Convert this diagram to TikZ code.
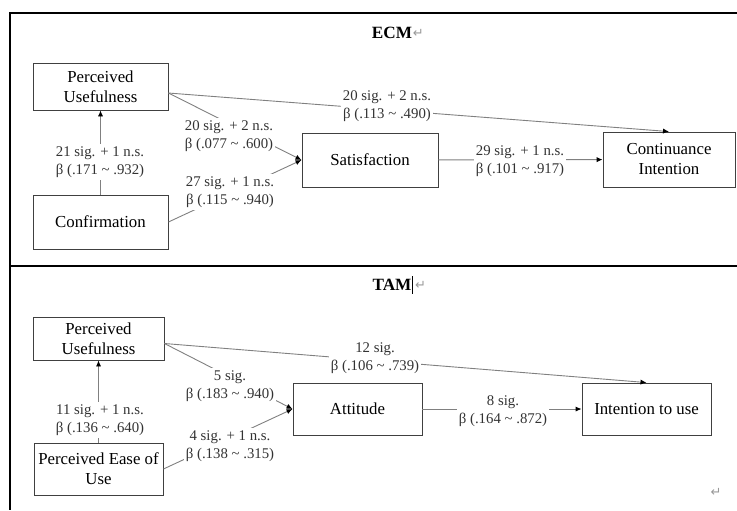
\documentclass[tikz,border=0pt]{standalone}
\usepackage{fontspec}
\setmainfont{Liberation Serif}
\newfontfamily\symfont{DejaVu Sans}
\usetikzlibrary{calc, arrows.meta}

\tikzset{
    box/.style={draw=black!75, line width=0.45pt, align=center, inner sep=1pt,
        font=\fontsize{8.4}{10}\selectfont},
    lbl/.style={fill=white, align=center, inner sep=1pt, text=black!80,
        font=\fontsize{7.4}{9.2}\selectfont},
    link/.style={draw=black!50, line width=0.45pt,
        arrows={-{Latex[black, length=3pt, width=2.6pt]}}},
    frame/.style={draw, line width=1pt},
    ret/.style={text=black!40, inner sep=0pt, font=\symfont\fontsize{6.5}{6.5}\selectfont},
    ttl/.style={inner sep=0pt, font=\bfseries\fontsize{8.6}{10}\selectfont},
}

\begin{document}
\begin{tikzpicture}[x=0.5pt, y=-0.5pt]
        \useasboundingbox (0, 0) rectangle (737, 510);
        % frame
        \coordinate (tl) at (10, 13);
        \coordinate (tr) at (737, 13);
        \coordinate (bl) at (10, 510);
        \coordinate (ml) at (10, 266);
        \coordinate (mr) at (737, 266);
        \path [frame] (tr) -- (tl) -- (bl);
        \path [frame] (ml) -- (mr);

        % ECM
        \node [ttl] (ecm) at (392, 33) {ECM};
        \node [ret, right=0pt] at (ecm.east) {↵};
        \node [box, minimum width=67.5pt, minimum height=23.5pt] (pu1) at (100.5, 86.5) {Perceived\\Usefulness};
        \node [box, minimum width=67.5pt, minimum height=27pt] (cf1) at (100.5, 222) {Confirmation};
        \node [box, minimum width=68pt, minimum height=27pt] (sat) at (370, 160) {Satisfaction};
        \node [box, minimum width=66pt, minimum height=27.5pt] (ci) at (669, 159.5) {Continuance\\Intention};
        \coordinate (pu1out) at ($(pu1.east)+(0, 6.5)$);
        \path [link] (cf1) -- (pu1);
        \path [link] (pu1out) -- (sat.west);
        \path [link] (cf1.east) -- (sat.west);
        \path [link] (pu1out) -- (ci.north);
        \path [link] (sat) -- (ci);
        \node [lbl] (e1) at (100, 162) {21 sig. + 1 n.s.\\β (.171 \textasciitilde\ .932)};
        \node [lbl] (e2) at (229, 136) {20 sig. + 2 n.s.\\β (.077 \textasciitilde\ .600)};
        \node [lbl] (e3) at (230, 192) {27 sig. + 1 n.s.\\β (.115 \textasciitilde\ .940)};
        \node [lbl] (e4) at (387, 106) {20 sig. + 2 n.s.\\β (.113 \textasciitilde\ .490)};
        \node [lbl] (e5) at (520, 161) {29 sig. + 1 n.s.\\β (.101 \textasciitilde\ .917)};

        % TAM
        \node [ttl] (tam) at (392, 285) {TAM};
        \draw [line width=0.4pt] ($(tam.east)+(1, -9)$) -- ($(tam.east)+(1, 9)$);
        \node [ret, right=1.5pt] at (tam.east) {↵};
        \node [box, minimum width=65.5pt, minimum height=21.5pt] (pu2) at (98.5, 338.5) {Perceived\\Usefulness};
        \node [box, minimum width=64.5pt, minimum height=26pt] (peou) at (98.5, 469) {Perceived Ease of\\Use};
        \node [box, minimum width=64.5pt, minimum height=26pt] (att) at (357.5, 409) {Attitude};
        \node [box, minimum width=64.5pt, minimum height=26pt] (itu) at (646.5, 409) {Intention to use};
        \coordinate (pu2out) at ($(pu2.east)+(0, 5)$);
        \path [link] (peou) -- (pu2);
        \path [link] (pu2out) -- (att.west);
        \path [link] (peou.east) -- (att.west);
        \path [link] (pu2out) -- (itu.north);
        \path [link] (att) -- (itu);
        \node [lbl] (t1) at (100, 420) {11 sig. + 1 n.s.\\β (.136 \textasciitilde\ .640)};
        \node [lbl] (t2) at (230, 386) {5 sig.\\β (.183 \textasciitilde\ .940)};
        \node [lbl] (t3) at (230, 446) {4 sig. + 1 n.s.\\β (.138 \textasciitilde\ .315)};
        \node [lbl] (t4) at (375, 358) {12 sig.\\β (.106 \textasciitilde\ .739)};
        \node [lbl] (t5) at (503, 411) {8 sig.\\β (.164 \textasciitilde\ .872)};
        \node [ret] (end) at (716, 492) {↵};
    \end{tikzpicture}
\end{document}
